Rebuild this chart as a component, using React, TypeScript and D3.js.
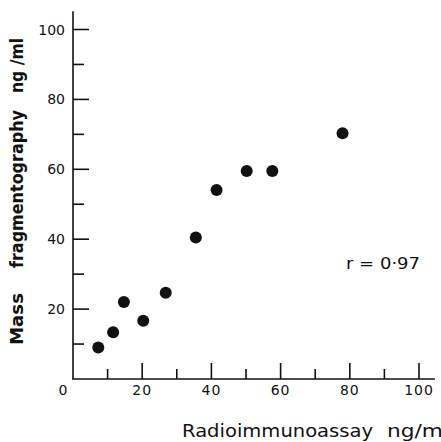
import React from 'react'
import * as d3 from 'd3'

// Radioimmunoassay (x) vs mass fragmentography (y), ng/ml
const radioimmunoassay = [7.3, 11.6, 14.7, 20.3, 26.8, 35.5, 41.5, 50.2, 57.6, 77.9]
const massFragmentography = [9.0, 13.4, 22.0, 16.7, 24.7, 40.5, 54.1, 59.5, 59.5, 70.3]
const majorTicks = [20, 40, 60, 80, 100]
const minorTicks = [10, 30, 50, 70, 90]
const correlation = 'r = 0·97'

const W = 441
const H = 442
const ink = '#111'
const font = '"DejaVu Sans", Verdana, sans-serif'

export default function App() {
  const x = d3.scaleLinear().domain([0, 100]).range([73, 419])
  const y = d3.scaleLinear().domain([0, 100]).range([379, 29.5])
  const points = radioimmunoassay.map((v, i) => [v, massFragmentography[i]])

  return (
    <svg width={W} height={H} style={{position: 'absolute', left: 0, top: 0, background: '#fff'}}>
      <g stroke={ink} strokeWidth={1.6} fill="none">
        {/* axes */}
        <line x1={x(0)} x2={x(0)} y1={y(105.2)} y2={y(0)} />
        <line x1={x(0) - 1} x2={x(104.6)} y1={y(0)} y2={y(0)} />
        {majorTicks.map(t => <line key={'yM' + t} x1={x(0)} x2={x(0) + 16} y1={y(t)} y2={y(t)} />)}
        {minorTicks.map(t => <line key={'ym' + t} x1={x(0)} x2={x(0) + 11} y1={y(t)} y2={y(t)} />)}
        {majorTicks.map(t => <line key={'xM' + t} x1={x(t)} x2={x(t)} y1={y(0)} y2={y(0) - 16} />)}
        {minorTicks.map(t => <line key={'xm' + t} x1={x(t)} x2={x(t)} y1={y(0)} y2={y(0) - 10} />)}
      </g>
      <g fill={ink} fontFamily={font} fontSize={14}>
        {majorTicks.map(t => (
          <text key={'yl' + t} x={x(0) - 8} y={y(t)} dy="0.36em" textAnchor="end">{t}</text>
        ))}
        <text x={x(0) - 10} y={y(0) + 11} dy="0.36em" textAnchor="middle">0</text>
        {majorTicks.map(t => (
          <text key={'xl' + t} x={x(t)} y={y(0) + 11} dy="0.36em" textAnchor="middle" letterSpacing={1}>{t}</text>
        ))}
      </g>
      <g fill={ink}>
        {points.map(([a, b], i) => <circle key={i} cx={x(a)} cy={y(b)} r={6} />)}
      </g>
      <g fill={ink} fontFamily={font}>
        <text x={346} y={269} fontSize={16} textLength={74} lengthAdjust="spacingAndGlyphs">{correlation}</text>
        <text x={182} y={437} fontSize={17} textLength={191} lengthAdjust="spacingAndGlyphs">Radioimmunoassay</text>
        <text x={387} y={437} fontSize={17} textLength={62} lengthAdjust="spacingAndGlyphs">ng/ml</text>
        <g transform="translate(23,0) rotate(-90)" fontWeight="bold" fontSize={17}>
          <text x={-345} y={0} textLength={52} lengthAdjust="spacingAndGlyphs">Mass</text>
          <text x={-268} y={0} textLength={158} lengthAdjust="spacingAndGlyphs">fragmentography</text>
          <text x={-93} y={0} textLength={55} lengthAdjust="spacingAndGlyphs">ng /ml</text>
        </g>
      </g>
    </svg>
  )
}
